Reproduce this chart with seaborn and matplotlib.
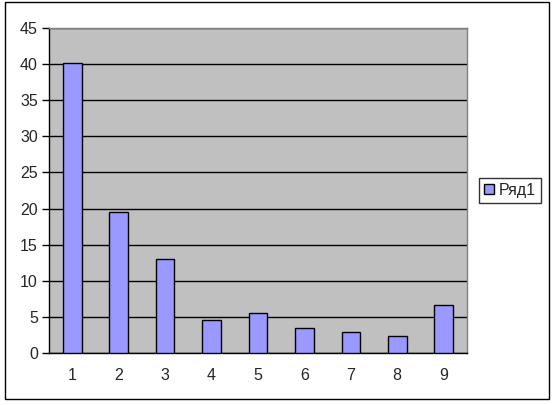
import seaborn as sns
import matplotlib.pyplot as plt
import pandas as pd
from matplotlib.patches import Rectangle, Patch

categories = ["1", "2", "3", "4", "5", "6", "7", "8", "9"]
values = [40.2, 19.5, 13.0, 4.5, 5.5, 3.4, 2.9, 2.3, 6.6]
series_name = "Ряд1"
yticks = [0, 5, 10, 15, 20, 25, 30, 35, 40, 45]

df = pd.DataFrame({"x": categories, "y": values})

sns.set_style("white")
plt.rcParams["font.family"] = ["Liberation Sans", "DejaVu Sans"]

fig = plt.figure(figsize=(5.52, 4.05), dpi=100)
ax = fig.add_axes([0.0888, 0.1284, 0.757, 0.8026])
ax.set_facecolor("#C0C0C0")

sns.barplot(data=df, x="x", y="y", color="#9999FF", saturation=1, width=0.4,
            edgecolor="black", linewidth=1, ax=ax, zorder=3)

ax.set_ylim(0, 45)
ax.set_xlim(-0.5, len(categories) - 0.5)
ax.set_yticks(yticks)
ax.yaxis.grid(True, color="black", linewidth=1, zorder=1)
ax.set_axisbelow(True)
ax.set_xlabel("")
ax.set_ylabel("")

ax.set_xticks(range(len(categories)))
ax.set_xticklabels(categories)
ax.set_xticks([i - 0.5 for i in range(len(categories) + 1)], minor=True)
ax.tick_params(axis="x", which="major", length=0, pad=11, labelsize=11.5)
ax.tick_params(axis="x", which="minor", length=5, width=1, color="black", direction="out")
ax.tick_params(axis="y", length=5, width=1, color="black", direction="out", labelsize=11.5, pad=3)
ax.tick_params(axis="both", bottom=True, left=True)

for side in ["left", "bottom"]:
    ax.spines[side].set_color("black")
    ax.spines[side].set_linewidth(1)
for side in ["top", "right"]:
    ax.spines[side].set_color("#808080")
    ax.spines[side].set_linewidth(1)

handle = Patch(facecolor="#9999FF", edgecolor="black", linewidth=1)
leg = fig.legend([handle], [series_name], loc="center", bbox_to_anchor=(0.924, 0.53),
                 frameon=True, fancybox=False, edgecolor="black", fontsize=11.5,
                 handlelength=0.6, handleheight=0.6, handletextpad=0.35,
                 borderpad=0.3, borderaxespad=0)
leg.get_frame().set_linewidth(1)

fig.patches.append(Rectangle((0.009, 0.014), 0.985, 0.98, transform=fig.transFigure,
                             fill=False, edgecolor="black", linewidth=1))

fig.savefig("out.png", dpi=100, facecolor="white")
